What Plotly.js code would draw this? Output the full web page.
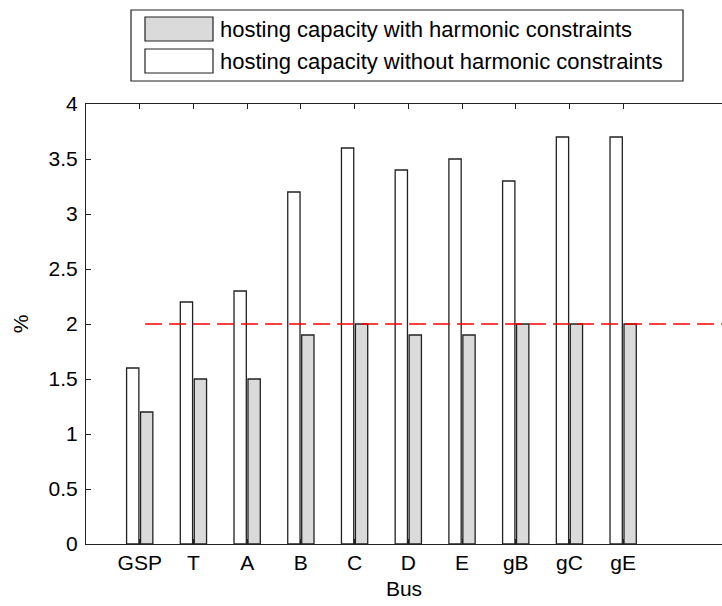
<!DOCTYPE html>
<html>
<head>
<meta charset="utf-8">
<script src="https://cdn.plot.ly/plotly-3.0.1.min.js"></script>
<style>
html,body{margin:0;padding:0;overflow:hidden;background:#fff;}
#chart{width:722px;height:606px;}
</style>
</head>
<body>
<div id="chart"></div>
<script>
// ---- data ----
const categories = ['GSP', 'T', 'A', 'B', 'C', 'D', 'E', 'gB', 'gC', 'gE'];
const withoutHarmonic = [1.6, 2.2, 2.3, 3.2, 3.6, 3.4, 3.5, 3.3, 3.7, 3.7];
const withHarmonic = [1.2, 1.5, 1.5, 1.9, 2.0, 1.9, 1.9, 2.0, 2.0, 2.0];
const limitX = [1.1, 12];
const limitY = [2, 2];
const yTickVals = [0, 0.5, 1, 1.5, 2, 2.5, 3, 3.5, 4];
const yTickText = ['0', '0.5', '1', '1.5', '2', '2.5', '3', '3.5', '4'];
const legendLabels = ['hosting capacity with harmonic constraints',
                      'hosting capacity without harmonic constraints'];

// ---- layout helpers ----
const W = 722, H = 606;
const M = {l: 86, r: 0, t: 104, b: 62};
const PW = W - M.l - M.r, PH = H - M.t - M.b;
const px = x => (x - M.l) / PW;
const py = y => (H - M.b - y) / PH;
const xMax = 11.84;

const xPos = categories.map((c, i) => i + 1);
const FONT = 'Liberation Sans, Arial, sans-serif';
const LINE = '#222222';
const GRAY = '#dadada';

const traces = [
  {type: 'bar', x: xPos, y: withoutHarmonic, name: legendLabels[1],
   marker: {color: '#ffffff', line: {color: LINE, width: 1.3}}, showlegend: false, hoverinfo: 'y'},
  {type: 'bar', x: xPos, y: withHarmonic, name: legendLabels[0],
   marker: {color: GRAY, line: {color: LINE, width: 1.3}}, showlegend: false, hoverinfo: 'y'},
  {type: 'scatter', mode: 'lines', x: limitX, y: limitY, showlegend: false,
   line: {color: '#ff0000', width: 1.6, dash: '17px,7px'}, hoverinfo: 'skip'}
];

const shapes = [
  {type: 'rect', xref: 'paper', yref: 'paper', x0: px(131), x1: px(683), y0: py(81), y1: py(10),
   line: {color: LINE, width: 1.2}, fillcolor: '#ffffff'},
  {type: 'rect', xref: 'paper', yref: 'paper', x0: px(145), x1: px(213), y0: py(41), y1: py(17),
   line: {color: LINE, width: 1.2}, fillcolor: GRAY},
  {type: 'rect', xref: 'paper', yref: 'paper', x0: px(145), x1: px(213), y0: py(73), y1: py(49),
   line: {color: LINE, width: 1.2}, fillcolor: '#ffffff'}
];

const annotations = [
  {xref: 'paper', yref: 'paper', x: px(218), y: py(29), xanchor: 'left', yanchor: 'middle',
   text: legendLabels[0], showarrow: false, font: {family: FONT, size: 22, color: '#000'}},
  {xref: 'paper', yref: 'paper', x: px(218), y: py(61), xanchor: 'left', yanchor: 'middle',
   text: legendLabels[1], showarrow: false, font: {family: FONT, size: 22, color: '#000'}}
];

const layout = {
  width: W, height: H,
  margin: M,
  paper_bgcolor: '#ffffff', plot_bgcolor: '#ffffff',
  font: {family: FONT, size: 21, color: '#000'},
  barmode: 'group', bargap: 0.48, bargroupgap: 0.12,
  showlegend: false,
  xaxis: {
    range: [0, xMax], tickvals: xPos, ticktext: categories,
    ticks: 'inside', ticklen: 5, tickwidth: 1, tickcolor: LINE,
    showline: true, linecolor: LINE, linewidth: 1, mirror: 'ticks',
    showgrid: false, zeroline: false,
    title: {text: 'Bus', font: {family: FONT, size: 21}, standoff: 8}
  },
  yaxis: {
    range: [0, 4], tickvals: yTickVals, ticktext: yTickText,
    ticks: 'inside', ticklen: 5, tickwidth: 1, tickcolor: LINE,
    showline: true, linecolor: LINE, linewidth: 1, mirror: false,
    ticklabelstandoff: 3,
    showgrid: false, zeroline: false,
    title: {text: '%', font: {family: FONT, size: 21}, standoff: 14}
  },
  shapes: shapes,
  annotations: annotations
};

Plotly.newPlot('chart', traces, layout, {displayModeBar: false, staticPlot: true});
</script>
</body>
</html>
